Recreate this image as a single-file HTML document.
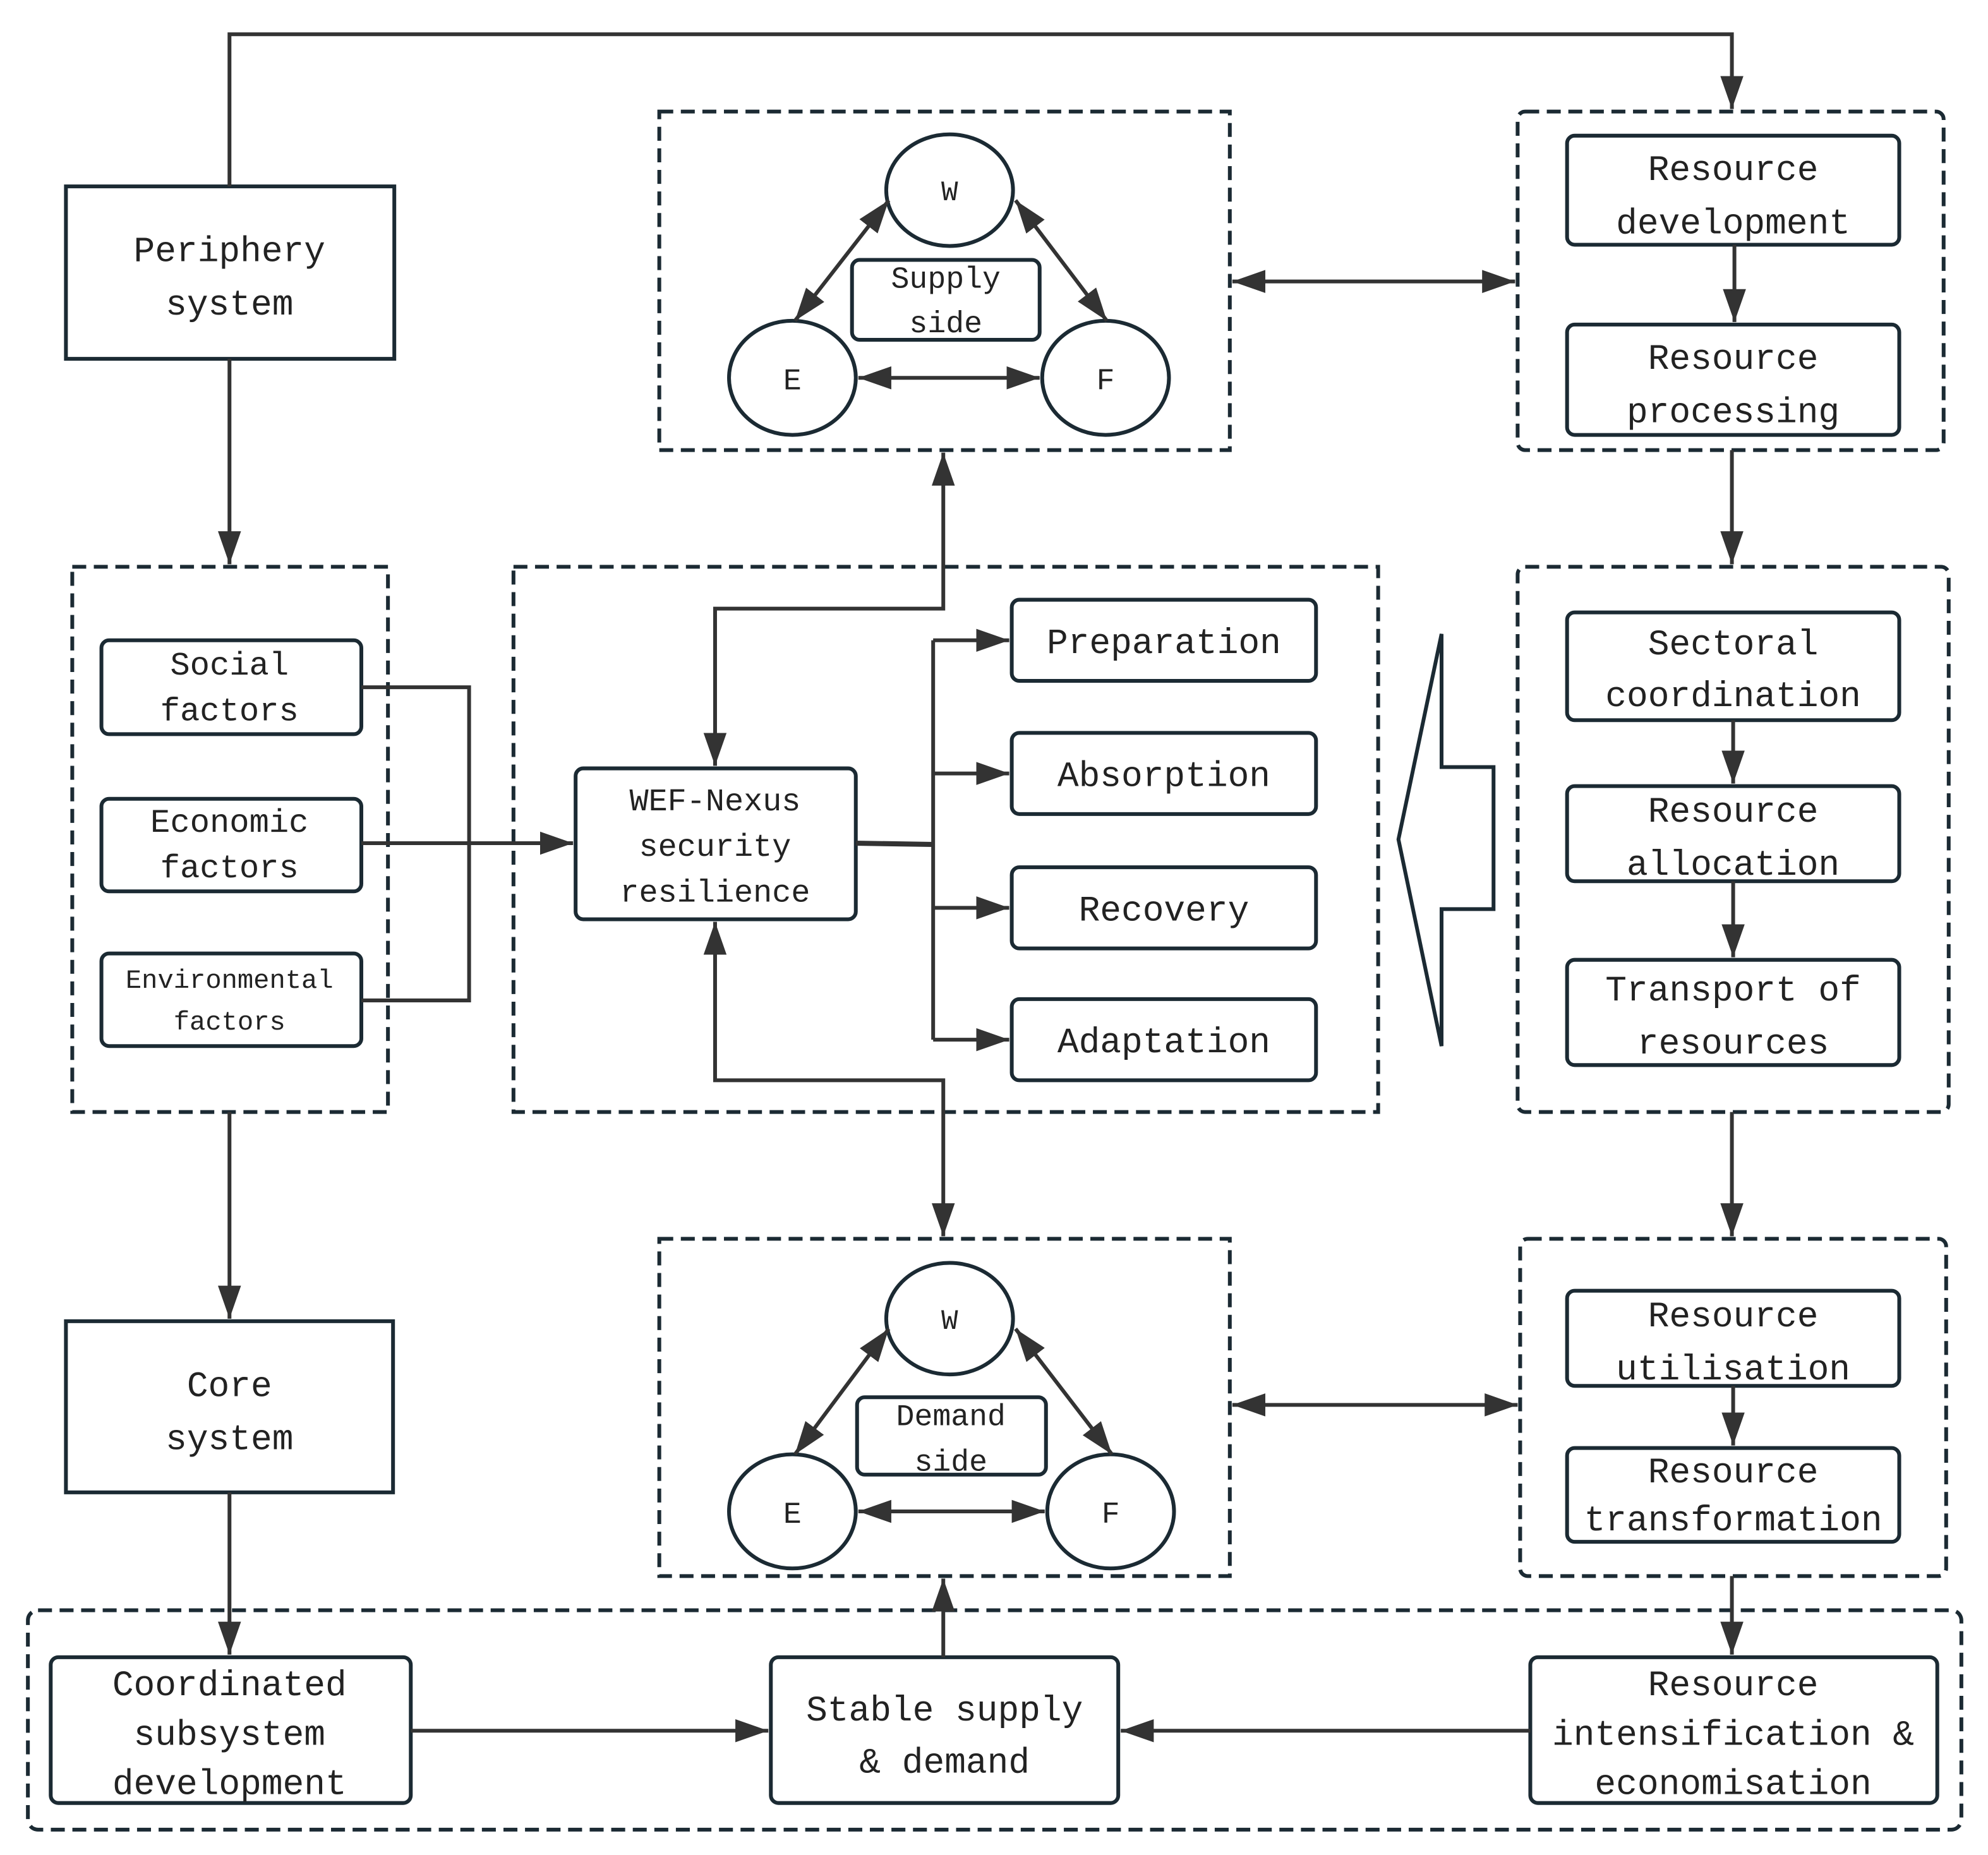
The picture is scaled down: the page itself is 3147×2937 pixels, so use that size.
<!DOCTYPE html>
<html><head><meta charset="utf-8"><style>
html,body{margin:0;padding:0;background:#fff;}
svg{display:block;}
text{font-family:"Liberation Mono","DejaVu Sans Mono",monospace;fill:#222;text-anchor:middle;}
</style></head><body>
<svg width="3147" height="2937" viewBox="0 0 1568 1463" preserveAspectRatio="none" xmlns="http://www.w3.org/2000/svg">
<defs>
<marker id="a" viewBox="0 0 10 10" refX="10" refY="5" markerWidth="9" markerHeight="9" markerUnits="userSpaceOnUse" orient="auto-start-reverse"><path d="M0,0 L10,5 L0,10 z" fill="#333"/></marker>
<marker id="b" viewBox="0 0 10 10" refX="10" refY="5" markerWidth="26" markerHeight="26" markerUnits="userSpaceOnUse" orient="auto-start-reverse"><path d="M0,1.5 L10,5 L0,8.5 z" fill="#333"/></marker>
</defs>
<g fill="none" stroke="#1b2a33" stroke-width="3" stroke-dasharray="11,6">
<rect x="57" y="447" width="249" height="430"/>
<rect x="405" y="447" width="682" height="430"/>
<rect x="520" y="88" width="450" height="267"/>
<rect x="1197" y="88" width="336" height="267" rx="6"/>
<rect x="1197" y="447" width="340" height="430" rx="6"/>
<rect x="520" y="977" width="450" height="266"/>
<rect x="1199" y="977" width="336" height="266" rx="6"/>
<rect x="22" y="1270" width="1525" height="173" rx="8"/>
</g>
<g fill="#fff" stroke="#1b2a33" stroke-width="3">
<rect x="52" y="147" width="259" height="136"/>
<rect x="52" y="1042" width="258" height="135"/>
<rect x="80" y="505" width="205" height="74" rx="6"/>
<rect x="80" y="630" width="205" height="73" rx="6"/>
<rect x="80" y="752" width="205" height="73" rx="6"/>
<rect x="454" y="606" width="221" height="119" rx="6"/>
<rect x="798" y="473" width="240" height="64" rx="6"/>
<rect x="798" y="578" width="240" height="64" rx="6"/>
<rect x="798" y="684" width="240" height="64" rx="6"/>
<rect x="798" y="788" width="240" height="64" rx="6"/>
<rect x="1236" y="107" width="262" height="86" rx="6"/>
<rect x="1236" y="256" width="262" height="87" rx="6"/>
<rect x="1236" y="483" width="262" height="85" rx="6"/>
<rect x="1236" y="620" width="262" height="75" rx="6"/>
<rect x="1236" y="757" width="262" height="83" rx="6"/>
<rect x="1236" y="1018" width="262" height="75" rx="6"/>
<rect x="1236" y="1142" width="262" height="74" rx="6"/>
<rect x="40" y="1307" width="284" height="115" rx="6"/>
<rect x="608" y="1307" width="274" height="115" rx="6"/>
<rect x="1207" y="1307" width="321" height="115" rx="6"/>
<rect x="672" y="205" width="148" height="63" rx="6"/>
<rect x="676" y="1102" width="149" height="61" rx="6"/>
<ellipse cx="749" cy="150" rx="50" ry="44"/>
<ellipse cx="625" cy="298" rx="50" ry="45"/>
<ellipse cx="872" cy="298" rx="50" ry="45"/>
<ellipse cx="749" cy="1040" rx="50" ry="44"/>
<ellipse cx="625" cy="1192" rx="50" ry="45"/>
<ellipse cx="876" cy="1192" rx="50" ry="45"/>
<polygon points="1103,662 1137,500 1137,605 1178,605 1178,717 1137,717 1137,825"/>
</g>
<g fill="none" stroke="#333" stroke-width="3">
<polyline points="181,147 181,27 1366,27 1366,86" marker-end="url(#b)"/>
<line x1="181" y1="283" x2="181" y2="445" marker-end="url(#b)"/>
<line x1="181" y1="877" x2="181" y2="1040" marker-end="url(#b)"/>
<line x1="181" y1="1177" x2="181" y2="1305" marker-end="url(#b)"/>
<polyline points="285,542 370,542 370,789 285,789"/>
<line x1="285" y1="665" x2="452" y2="665" marker-end="url(#b)"/>
<line x1="675" y1="665" x2="736" y2="666" stroke-width="4"/>
<line x1="736" y1="505" x2="736" y2="820"/>
<line x1="736" y1="505" x2="796" y2="505" marker-end="url(#b)"/>
<line x1="736" y1="610" x2="796" y2="610" marker-end="url(#b)"/>
<line x1="736" y1="716" x2="796" y2="716" marker-end="url(#b)"/>
<line x1="736" y1="820" x2="796" y2="820" marker-end="url(#b)"/>
<polyline points="564,604 564,480 744,480 744,357" marker-start="url(#b)" marker-end="url(#b)"/>
<polyline points="564,727 564,852 744,852 744,975" marker-start="url(#b)" marker-end="url(#b)"/>
<line x1="972" y1="222" x2="1195" y2="222" marker-start="url(#b)" marker-end="url(#b)"/>
<line x1="972" y1="1108" x2="1197" y2="1108" marker-start="url(#b)" marker-end="url(#b)"/>
<line x1="1368" y1="193" x2="1368" y2="254" marker-end="url(#b)"/>
<line x1="1366" y1="355" x2="1366" y2="445" marker-end="url(#b)"/>
<line x1="1367" y1="568" x2="1367" y2="618" marker-end="url(#b)"/>
<line x1="1367" y1="695" x2="1367" y2="755" marker-end="url(#b)"/>
<line x1="1366" y1="877" x2="1366" y2="975" marker-end="url(#b)"/>
<line x1="1367" y1="1093" x2="1367" y2="1140" marker-end="url(#b)"/>
<line x1="1366" y1="1243" x2="1366" y2="1305" marker-end="url(#b)"/>
<line x1="324" y1="1365" x2="606" y2="1365" marker-end="url(#b)"/>
<line x1="1207" y1="1365" x2="884" y2="1365" marker-end="url(#b)"/>
<line x1="744" y1="1307" x2="744" y2="1245" marker-end="url(#b)"/>
<line x1="701" y1="158" x2="627" y2="253" marker-start="url(#b)" marker-end="url(#b)"/>
<line x1="801" y1="158" x2="873" y2="253" marker-start="url(#b)" marker-end="url(#b)"/>
<line x1="677" y1="298" x2="820" y2="298" marker-start="url(#b)" marker-end="url(#b)"/>
<line x1="701" y1="1048" x2="627" y2="1147" marker-start="url(#b)" marker-end="url(#b)"/>
<line x1="801" y1="1048" x2="877" y2="1147" marker-start="url(#b)" marker-end="url(#b)"/>
<line x1="677" y1="1192" x2="824" y2="1192" marker-start="url(#b)" marker-end="url(#b)"/>
</g>
<g font-size="28">
<text x="181" y="206">Periphery</text><text x="181" y="248">system</text>
<text x="181" y="1101">Core</text><text x="181" y="1143">system</text>
<text x="181" y="532" font-size="26">Social</text><text x="181" y="568" font-size="26">factors</text>
<text x="181" y="656" font-size="26">Economic</text><text x="181" y="692" font-size="26">factors</text>
<text x="181" y="779" font-size="21">Environmental</text><text x="181" y="812" font-size="21">factors</text>
<text x="564" y="639" font-size="25">WEF-Nexus</text><text x="564" y="675" font-size="25">security</text><text x="564" y="711" font-size="25">resilience</text>
<text x="918" y="515">Preparation</text>
<text x="918" y="620">Absorption</text>
<text x="918" y="726">Recovery</text>
<text x="918" y="830">Adaptation</text>
<text x="1367" y="142">Resource</text><text x="1367" y="184">development</text>
<text x="1367" y="291">Resource</text><text x="1367" y="333">processing</text>
<text x="1367" y="516">Sectoral</text><text x="1367" y="557">coordination</text>
<text x="1367" y="648">Resource</text><text x="1367" y="690">allocation</text>
<text x="1367" y="789">Transport of</text><text x="1367" y="831">resources</text>
<text x="1367" y="1046">Resource</text><text x="1367" y="1088">utilisation</text>
<text x="1367" y="1169">Resource</text><text x="1367" y="1207">transformation</text>
<text x="181" y="1337">Coordinated</text><text x="181" y="1376">subsystem</text><text x="181" y="1415">development</text>
<text x="745" y="1357">Stable supply</text><text x="745" y="1398">&amp; demand</text>
<text x="1367" y="1337">Resource</text><text x="1367" y="1376">intensification &amp;</text><text x="1367" y="1415">economisation</text>
<text x="749" y="158" font-size="22">W</text><text x="625" y="307" font-size="24">E</text><text x="872" y="307" font-size="24">F</text>
<text x="749" y="1048" font-size="22">W</text><text x="625" y="1201" font-size="24">E</text><text x="876" y="1201" font-size="24">F</text>
<text x="746" y="227" font-size="24">Supply</text><text x="746" y="262" font-size="24">side</text>
<text x="750" y="1124" font-size="24">Demand</text><text x="750" y="1160" font-size="24">side</text>
</g>
</svg>
</body></html>
